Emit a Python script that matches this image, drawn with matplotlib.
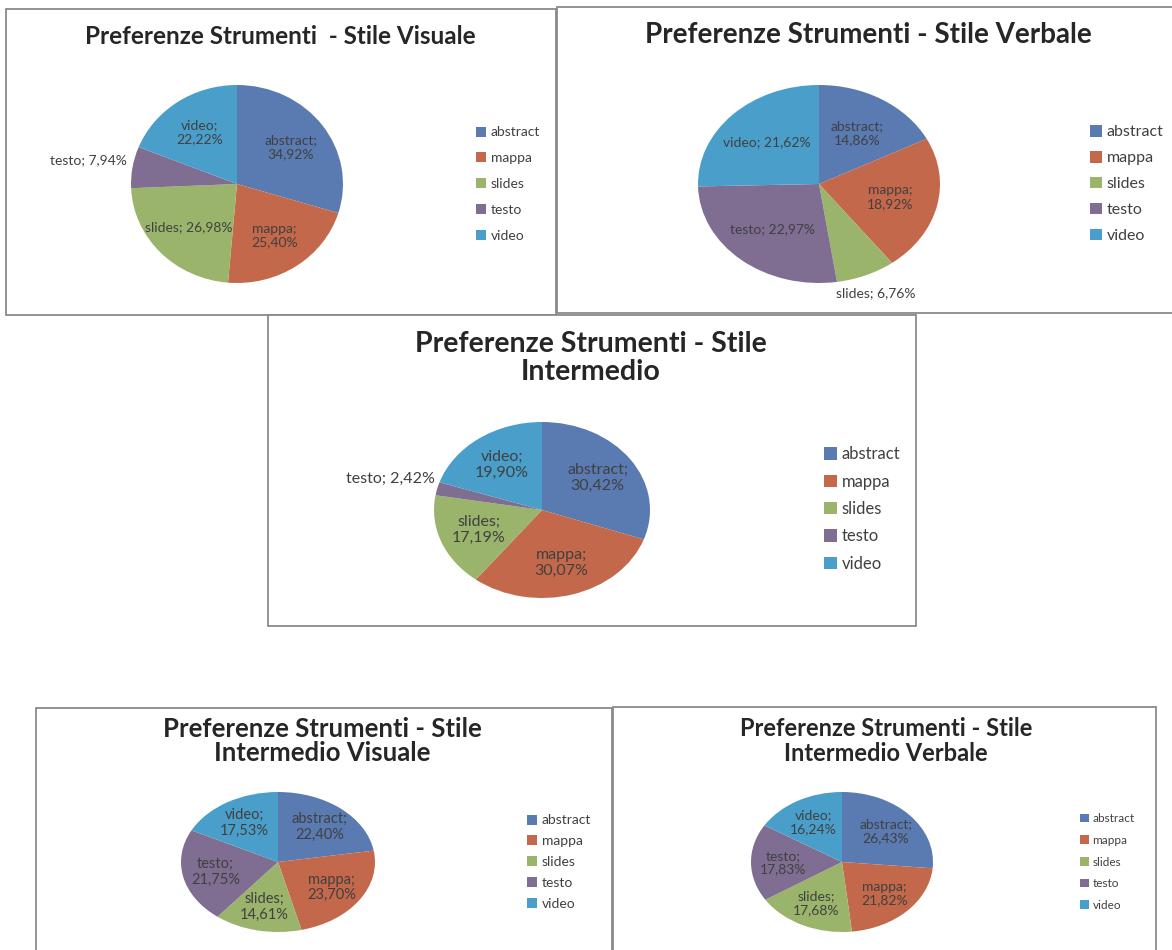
import matplotlib
matplotlib.use("Agg")
import matplotlib.pyplot as plt
import numpy as np
from matplotlib.patches import Rectangle

plt.rcParams['font.family'] = ['Lato', 'DejaVu Sans']

W, H = 1172, 950

categories = ["abstract", "mappa", "slides", "testo", "video"]
colors = ["#5A7AB2", "#C4684B", "#9BB46C", "#7F6D92", "#4A9FCA"]

visuale = [34.92, 25.40, 26.98, 7.94, 22.22]
verbale = [14.86, 18.92, 6.76, 22.97, 21.62]
intermedio = [30.42, 30.07, 17.19, 2.42, 19.90]
intermedio_visuale = [22.40, 23.70, 14.61, 21.75, 17.53]
intermedio_verbale = [26.43, 21.82, 17.68, 17.83, 16.24]

titles = [
    "Preferenze Strumenti  - Stile Visuale",
    "Preferenze Strumenti - Stile Verbale",
    "Preferenze Strumenti - Stile\nIntermedio",
    "Preferenze Strumenti - Stile\nIntermedio Visuale",
    "Preferenze Strumenti - Stile\nIntermedio Verbale",
]

# layout in pixel (x0, y0, x1, y1 dall'alto a sinistra)
charts = [
    dict(values=visuale, title=titles[0], panel=(6, 9, 556, 315),
         title_xy=(280, 36), title_size=17.5, title_ls=1.1, pie=(237, 184, 106, 99),
         label_size=10, label_r=0.63, one_line={"slides", "testo"},
         outside={"testo": 1.42}, legend_xy=(476, 184), legend_size=10, pitch=26),
    dict(values=verbale, title=titles[1], panel=(557, 7, 1176, 313),
         title_xy=(868, 35), title_size=20, title_ls=1.1, pie=(819, 184, 121, 99),
         label_size=10, label_r=0.6, one_line={"slides", "testo", "video"},
         outside={"slides": 1.2}, legend_xy=(1090, 184), legend_size=11.5, pitch=25.5),
    dict(values=intermedio, title=titles[2], panel=(268, 315, 916, 626),
         title_xy=(591, 358), title_size=20.5, title_ls=1.12, pie=(542, 510, 108, 88),
         label_size=11.5, label_r=0.63, one_line={"testo"},
         outside={"testo": 1.45}, legend_xy=(824, 509), legend_size=12, pitch=26),
    dict(values=intermedio_visuale, title=titles[3], panel=(36, 708, 612, 960),
         title_xy=(322, 741), title_size=18.5, title_ls=1.03, pie=(278, 862, 97, 70),
         label_size=10.5, label_r=0.66, one_line=set(),
         outside={}, legend_xy=(527, 862), legend_size=10, pitch=21),
    dict(values=intermedio_verbale, title=titles[4], panel=(613, 707, 1156, 960),
         title_xy=(886, 741), title_size=17, title_ls=1.08, pie=(842, 862, 91, 70),
         label_size=10, label_r=0.65, one_line=set(),
         outside={}, legend_xy=(1080, 862), legend_size=8.5, pitch=21),
]


def fmt(cat, v, one_line):
    pct = f"{v:.2f}".replace(".", ",") + "%"
    return f"{cat}; {pct}" if one_line else f"{cat};\n{pct}"


fig = plt.figure(figsize=(W / 100, H / 100), dpi=100)

for c in charts:
    x0, y0, x1, y1 = c["panel"]
    fig.add_artist(Rectangle((x0 / W, 1 - y1 / H), (x1 - x0) / W, (y1 - y0) / H,
                             transform=fig.transFigure, facecolor="white",
                             edgecolor="#8a8a8a", lw=1.3, zorder=-1))

for c in charts:
    cx, cy, rx, ry = c["pie"]
    ax = fig.add_axes([(cx - rx) / W, 1 - (cy + ry) / H, 2 * rx / W, 2 * ry / H])
    wedges, _ = ax.pie(c["values"], colors=colors, startangle=90, counterclock=False,
                       radius=1, wedgeprops=dict(linewidth=0))
    ax.set_aspect("auto")
    ax.set_xlim(-1, 1)
    ax.set_ylim(-1, 1)
    ax.axis("off")

    for w, cat, v in zip(wedges, categories, c["values"]):
        theta = np.deg2rad((w.theta1 + w.theta2) / 2)
        r = c["outside"].get(cat, c["label_r"])
        ax.text(r * np.cos(theta), r * np.sin(theta), fmt(cat, v, cat in c["one_line"]),
                ha="center", va="center", multialignment="center",
                fontsize=c["label_size"], color="#404040", linespacing=1.15)

    tx, ty = c["title_xy"]
    fig.text(tx / W, 1 - ty / H, c["title"], ha="center", va="center",
             multialignment="center", fontsize=c["title_size"], fontweight="bold",
             color="#262626", linespacing=c["title_ls"])

    fs_px = c["legend_size"] * 100 / 72
    lx, ly = c["legend_xy"]
    fig.legend(wedges, categories, loc="center left", bbox_to_anchor=(lx / W, 1 - ly / H),
               frameon=False, fontsize=c["legend_size"], labelcolor="#404040",
               handlelength=0.75, handleheight=0.75, handletextpad=0.3,
               labelspacing=max(c["pitch"] / fs_px - 0.88, 0.1),
               borderpad=0, borderaxespad=0)

fig.savefig("out.png", dpi=100)
